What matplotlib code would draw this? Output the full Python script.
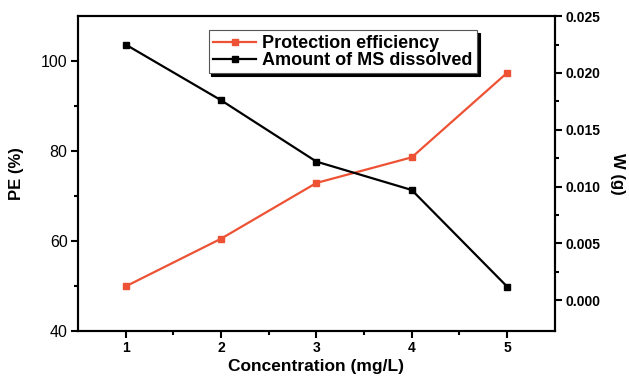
import numpy as np
import matplotlib.pyplot as plt

plt.rcParams['font.family'] = ['Liberation Sans', 'DejaVu Sans']

conc = [1, 2, 3, 4, 5]
pe = [49.9, 60.5, 72.9, 78.6, 97.4]
w = [0.0225, 0.0176, 0.0122, 0.0097, 0.0012]

red = "#EE5235"

fig = plt.figure(figsize=(6.29, 3.76), dpi=100)
ax = fig.add_axes([0.124, 0.12, 0.758, 0.837])
ax2 = ax.twinx()

l1, = ax.plot(conc, pe, color=red, marker="s", markersize=5, lw=1.6,
              label="Protection efficiency")
l2, = ax2.plot(conc, w, color="black", marker="s", markersize=5, lw=1.6,
               label="Amount of MS dissolved")

ax.set_xlim(0.5, 5.5)
ax.set_ylim(40, 110)
ax2.set_ylim(-0.0027, 0.025)

ax.set_xticks(conc)
ax.set_xticks(np.arange(1.5, 5.0, 1.0), minor=True)
ax.set_yticks([40, 60, 80, 100])
ax.set_yticks([50, 70, 90], minor=True)
ax2.set_yticks([0, 0.005, 0.01, 0.015, 0.02, 0.025])
ax2.set_yticks([0.0025, 0.0075, 0.0125, 0.0175, 0.0225], minor=True)
ax2.set_yticklabels(["0.000", "0.005", "0.010", "0.015", "0.020", "0.025"],
                    fontweight="bold")
ax.set_xticklabels([str(c) for c in conc], fontweight="bold")

for a in (ax, ax2):
    for s in a.spines.values():
        s.set_linewidth(1.5)
    a.tick_params(which="major", length=5, width=1.5, labelsize=10, pad=2.5)
    a.tick_params(which="minor", length=3, width=1.5)
ax.tick_params(axis="y", labelsize=11.5)

ax.set_xlabel("Concentration (mg/L)", fontsize=12.5, fontweight="bold",
              labelpad=3)
ax.set_ylabel("PE (%)", fontsize=12, fontweight="bold", labelpad=12)
ax2.set_ylabel("W (g)", fontsize=12, fontweight="bold", rotation=270,
               labelpad=18)

leg = ax.legend(handles=[l1, l2], loc="upper left",
                bbox_to_anchor=(0.274, 0.955),
                prop={"weight": "bold", "size": 13},
                frameon=True, fancybox=False,
                shadow={"color": "black", "alpha": 1},
                handlelength=2.4, handletextpad=0.3, borderpad=0.25,
                labelspacing=0.0, borderaxespad=0)
leg.get_frame().set_edgecolor("#555555")
leg.get_frame().set_linewidth(0.8)

fig.savefig("out.png", dpi=100)
